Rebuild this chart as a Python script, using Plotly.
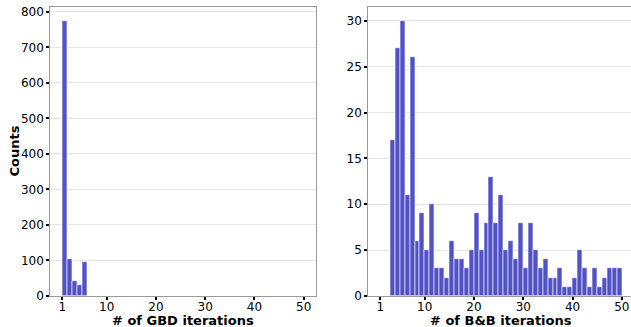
import plotly.graph_objects as go

# Data
gbd_iterations = [1, 2, 3, 4, 5]
gbd_counts = [775, 105, 42, 30, 95]

bb_iterations = list(range(3, 50))
bb_counts = [17, 27, 30, 11, 26, 6, 9, 5, 10, 3, 3, 2, 6, 4, 4, 3, 5, 9, 5, 8,
             13, 8, 11, 5, 6, 4, 8, 3, 8, 5, 3, 4, 2, 2, 3, 1, 1, 2, 5, 3,
             1, 3, 1, 2, 3, 3, 3]

x_tickvals = [1, 10, 20, 30, 40, 50]
left_yticks = [0, 100, 200, 300, 400, 500, 600, 700, 800]
right_yticks = [0, 5, 10, 15, 20, 25, 30]

BAR = "rgb(82,82,200)"
FONT = "DejaVu Sans"
W, H = 631, 327

fig = go.Figure()
fig.add_trace(go.Bar(x=gbd_iterations, y=gbd_counts, width=1, offset=0,
                     marker=dict(color=BAR, line=dict(color="white", width=0.6)),
                     xaxis="x", yaxis="y", showlegend=False))
fig.add_trace(go.Bar(x=bb_iterations, y=bb_counts, width=1, offset=0,
                     marker=dict(color=BAR, line=dict(color="white", width=0.6)),
                     xaxis="x2", yaxis="y2", showlegend=False))

ydom = [1 - 296 / H, 1 - 7 / H]
common_x = dict(tickvals=x_tickvals, ticks="outside", ticklen=3, tickwidth=2,
                tickcolor="black", showgrid=False, zeroline=False,
                showline=True, linecolor="#999999", linewidth=1, automargin=False,
                ticklabelstandoff=-3, ticklabeloverflow="allow",
                tickfont=dict(family=FONT, size=12, color="black"))
common_y = dict(ticks="outside", ticklen=3, tickwidth=2, tickcolor="black",
                showgrid=True, gridcolor="#e6e6e6", gridwidth=1, zeroline=False,
                showline=True, linecolor="#999999", linewidth=1, automargin=False,
                ticklabeloverflow="allow",
                tickfont=dict(family=FONT, size=12, color="black"))

title_font = dict(family=FONT, size=13, color="black")

fig.update_layout(
    width=W, height=H,
    margin=dict(l=0, r=0, t=0, b=0),
    plot_bgcolor="white", paper_bgcolor="white",
    bargap=0,
    xaxis=dict(domain=[50.3 / W, 315.7 / W], range=[-1.45, 52.45], anchor="y",
               mirror=True, **common_x),
    yaxis=dict(domain=ydom, range=[0, 813.75], anchor="x", tickvals=left_yticks,
               mirror=True, **common_y),
    xaxis2=dict(domain=[368.3 / W, 1.0], range=[-1.43, 51.85],
                anchor="y2", mirror=True, **common_x),
    yaxis2=dict(domain=ydom, range=[0, 31.5], anchor="x2", tickvals=right_yticks,
                **common_y),
    annotations=[
        dict(text="<b># of GBD iterations</b>", x=183 / W, y=1 - 320.3 / H,
             xref="paper", yref="paper", xanchor="center", yanchor="middle",
             showarrow=False, font=title_font),
        dict(text="<b># of B&B iterations</b>", x=501 / W, y=1 - 320.3 / H,
             xref="paper", yref="paper", xanchor="center", yanchor="middle",
             showarrow=False, font=title_font),
        dict(text="<b>Counts</b>", x=14 / W, y=1 - 151.5 / H, textangle=-90,
             xref="paper", yref="paper", xanchor="center", yanchor="middle",
             showarrow=False, font=title_font),
    ],
)

fig.write_html("out.html", config={"displayModeBar": False},
               post_script="document.body.style.margin='0';")
